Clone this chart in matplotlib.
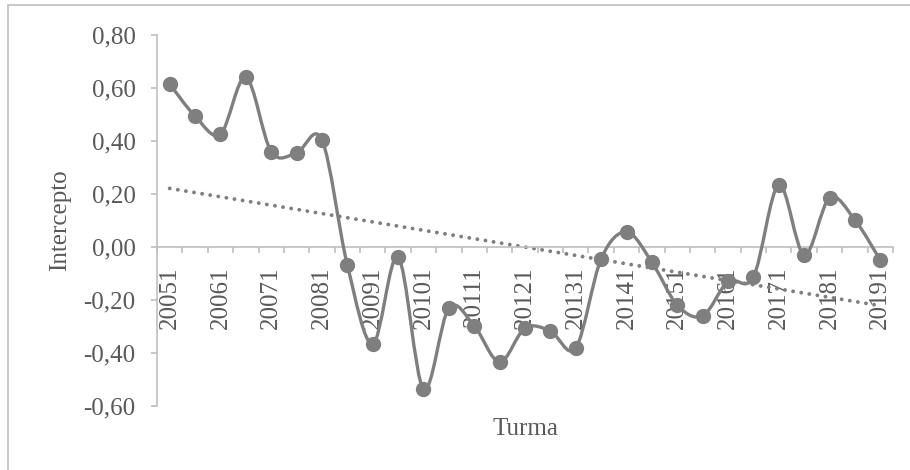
import numpy as np
import matplotlib
matplotlib.use("Agg")
import matplotlib.pyplot as plt
from matplotlib.path import Path
from matplotlib.patches import PathPatch, Rectangle

# Turma (year + semester) and intercept values
turmas = ["20051", "20052", "20061", "20062", "20071", "20072", "20081", "20082",
          "20091", "20092", "20101", "20102", "20111", "20112", "20121", "20122",
          "20131", "20132", "20141", "20142", "20151", "20152", "20161", "20162",
          "20171", "20172", "20181", "20182", "20191"]
intercepto = [0.615, 0.494, 0.426, 0.640, 0.360, 0.355, 0.404, -0.068,
              -0.366, -0.038, -0.536, -0.230, -0.298, -0.434, -0.306, -0.317,
              -0.381, -0.045, 0.057, -0.057, -0.219, -0.260, -0.130, -0.113,
              0.234, -0.030, 0.185, 0.102, -0.050]
y_ticks = [-0.6, -0.4, -0.2, 0.0, 0.2, 0.4, 0.6, 0.8]

plt.rcParams['font.family'] = ['Liberation Serif', 'DejaVu Serif']
gray_line = '#7F7F7F'
gray_text = '#595959'
gray_axis = '#BFBFBF'

x = np.arange(len(turmas))
y = np.array(intercepto)

fig = plt.figure(figsize=(9.1, 4.7), dpi=100)
ax = fig.add_axes([157/910, 1 - 406/470, (893 - 157)/910, (406 - 35)/470])

# outer chart border
fig.patches.append(Rectangle((8/910, -0.1), 1.2, 1.1 - 5/470, transform=fig.transFigure,
                             fill=False, edgecolor=gray_axis, linewidth=1.2))

# smoothed line (Catmull-Rom style bezier, like Excel's smoothing)
pts = np.column_stack((x, y))
verts = [pts[0]]
codes = [Path.MOVETO]
for i in range(len(pts) - 1):
    p_prev = pts[i - 1] if i > 0 else pts[i]
    p_next2 = pts[i + 2] if i + 2 < len(pts) else pts[i + 1]
    c1 = pts[i] + (pts[i + 1] - p_prev) / 6
    c2 = pts[i + 1] - (p_next2 - pts[i]) / 6
    verts += [c1, c2, pts[i + 1]]
    codes += [Path.CURVE4] * 3
ax.add_patch(PathPatch(Path(verts, codes), fill=False, edgecolor=gray_line,
                       linewidth=2.4, capstyle='round', joinstyle='round', zorder=3))
ax.plot(x, y, linestyle='none', marker='o', markersize=10, color=gray_line, zorder=4)

# linear trend line
slope, inter = np.polyfit(x, y, 1)
ax.plot([x[0], x[-1]], [inter + slope * x[0], inter + slope * x[-1]],
        color=gray_line, linewidth=2.8, linestyle=(0, (0.01, 2.1)),
        dash_capstyle='round', zorder=2)

ax.set_xlim(-0.5, len(turmas) - 0.5)
ax.set_ylim(-0.6, 0.8)

for s in ['top', 'right']:
    ax.spines[s].set_visible(False)
ax.spines['bottom'].set_position(('data', 0))
for s in ['left', 'bottom']:
    ax.spines[s].set_color(gray_axis)
    ax.spines[s].set_linewidth(1.2)

ax.set_yticks(y_ticks)
ax.set_yticklabels([f"{v:.2f}".replace('.', ',') for v in y_ticks])
ax.tick_params(axis='y', direction='out', length=4.5, width=1.2, color=gray_axis,
               pad=11, labelsize=18, labelcolor=gray_text)

# category boundary ticks and every-other labels
ax.set_xticks(np.arange(-0.5, len(turmas), 1.0))
ax.set_xticklabels([])
ax.tick_params(axis='x', which='major', direction='out', length=4.5, width=1.2, color=gray_axis)
ax.set_xticks(x[::2], minor=True)
ax.set_xticklabels(turmas[::2], minor=True, rotation=90)
ax.tick_params(axis='x', which='minor', length=0, pad=14, labelsize=18, labelcolor=gray_text)

fig.text(525/910, 1 - 429/470, "Turma", ha='center', va='center', fontsize=18, color=gray_text)
fig.text(60/910, 1 - 220/470, "Intercepto", ha='center', va='center', rotation=90,
         fontsize=18, color=gray_text)

fig.savefig("out.png", dpi=100)
